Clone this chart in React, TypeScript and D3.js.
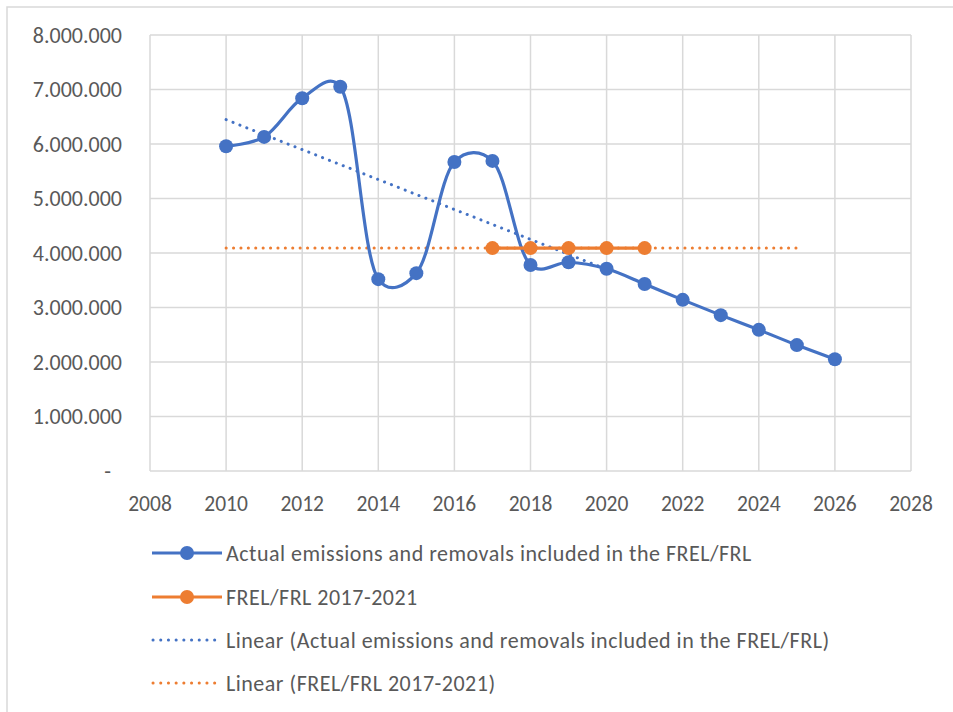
import React from "react";
import * as d3 from "d3";

const actualYears = [2010, 2011, 2012, 2013, 2014, 2015, 2016, 2017, 2018, 2019, 2020, 2021, 2022, 2023, 2024, 2025, 2026];
const actualValues = [5960000, 6130000, 6840000, 7050000, 3520000, 3630000, 5670000, 5690000, 3780000, 3830000, 3710000, 3430000, 3140000, 2860000, 2590000, 2310000, 2050000];
const frelYears = [2017, 2018, 2019, 2020, 2021];
const frelValues = [4090000, 4090000, 4090000, 4090000, 4090000];
// Excel trendline ranges (years covered by each "Linear" line)
const actualTrendRange = [2010, 2020];
const frelTrendRange = [2010, 2025];
const xTicks = [2008, 2010, 2012, 2014, 2016, 2018, 2020, 2022, 2024, 2026, 2028];
const yTicks = [0, 1000000, 2000000, 3000000, 4000000, 5000000, 6000000, 7000000, 8000000];
const legendLabels = [
  "Actual emissions and removals included in the FREL/FRL",
  "FREL/FRL 2017-2021",
  "Linear (Actual emissions and removals included in the FREL/FRL)",
  "Linear (FREL/FRL 2017-2021)",
];

const BLUE = "#4472C4";
const ORANGE = "#ED7D31";
const GRID = "#d9d9d9";
const TEXT = "#595959";
const FONT = "Carlito, 'Liberation Sans Narrow', 'Liberation Sans', Arial, sans-serif";

function linreg(xs: number[], ys: number[]) {
  const mx = d3.mean(xs)!;
  const my = d3.mean(ys)!;
  let sxy = 0, sxx = 0;
  xs.forEach((x, i) => { sxy += (x - mx) * (ys[i] - my); sxx += (x - mx) * (x - mx); });
  const slope = sxx === 0 ? 0 : sxy / sxx;
  return (x: number) => my + slope * (x - mx);
}

export default function App() {
  const W = 953, H = 712;
  const x = d3.scaleLinear().domain([2008, 2028]).range([150, 911]);
  const y = d3.scaleLinear().domain([0, 8000000]).range([471, 35]);
  const loc = d3.formatLocale({ decimal: ",", thousands: ".", grouping: [3], currency: ["", ""] });
  const fmt = loc.format(",d");

  const actual = actualYears.map((yr, i) => [yr, actualValues[i]] as [number, number]);
  const frel = frelYears.map((yr, i) => [yr, frelValues[i]] as [number, number]);

  const smooth = d3.line<[number, number]>().x(d => x(d[0])).y(d => y(d[1])).curve(d3.curveCatmullRom.alpha(0.25));
  const straight = d3.line<[number, number]>().x(d => x(d[0])).y(d => y(d[1]));

  const fitIdx = actualYears.map((yr, i) => i).filter(i => actualYears[i] >= actualTrendRange[0] && actualYears[i] <= actualTrendRange[1]);
  const fA = linreg(fitIdx.map(i => actualYears[i]), fitIdx.map(i => actualValues[i]));
  const fF = linreg(frelYears, frelValues);
  const trendA: [number, number][] = [[actualTrendRange[0], fA(actualTrendRange[0])], [actualTrendRange[1], fA(actualTrendRange[1])]];
  const trendF: [number, number][] = [[frelTrendRange[0], fF(frelTrendRange[0])], [frelTrendRange[1], fF(frelTrendRange[1])]];

  const legendY = [553, 597, 640, 683];

  return (
    <svg width={W} height={H} style={{ position: "absolute", left: 0, top: 0, background: "#fff" }} fontFamily={FONT}>
      <rect x={0} y={0} width={W} height={H} fill="#fff" />
      <rect x={7} y={7} width={W + 20} height={H + 20} fill="none" stroke={GRID} strokeWidth={1.5} />
      {/* grid */}
      {yTicks.map(t => (
        <line key={"gy" + t} x1={x(2008)} x2={x(2028)} y1={y(t)} y2={y(t)} stroke={GRID} strokeWidth={1.5} />
      ))}
      {xTicks.map(t => (
        <line key={"gx" + t} x1={x(t)} x2={x(t)} y1={y(0)} y2={y(8000000)} stroke={GRID} strokeWidth={1.5} />
      ))}
      {/* y labels */}
      {yTicks.map(t => (
        <text key={"ty" + t} x={t === 0 ? 111 : 122} y={y(t)} dy="0.35em" textAnchor="end" fontSize={22} fill={TEXT}>
          {t === 0 ? "-" : fmt(t)}
        </text>
      ))}
      {xTicks.map(t => (
        <text key={"tx" + t} x={x(t)} y={503} dy="0.35em" textAnchor="middle" fontSize={21.5} fill={TEXT}>
          {t}
        </text>
      ))}
      {/* trend lines */}
      <path d={straight(trendF)!} fill="none" stroke={ORANGE} strokeWidth={3} strokeDasharray="0.1 7.3" strokeLinecap="round" />
      <path d={straight(trendA)!} fill="none" stroke={BLUE} strokeWidth={3} strokeDasharray="0.1 7.3" strokeLinecap="round" />
      {/* series */}
      <path d={smooth(actual)!} fill="none" stroke={BLUE} strokeWidth={3.2} strokeLinejoin="round" />
      {actual.map(d => (
        <circle key={"a" + d[0]} cx={x(d[0])} cy={y(d[1])} r={7} fill={BLUE} />
      ))}
      <path d={straight(frel)!} fill="none" stroke={ORANGE} strokeWidth={3.2} />
      {frel.map(d => (
        <circle key={"f" + d[0]} cx={x(d[0])} cy={y(d[1])} r={7} fill={ORANGE} />
      ))}
      {/* legend */}
      {legendLabels.map((lab, i) => {
        const col = i % 2 === 0 ? BLUE : ORANGE;
        const dotted = i >= 2;
        const ly = legendY[i];
        return (
          <g key={"lg" + i}>
            {dotted ? (
              <line x1={153} x2={222} y1={ly} y2={ly} stroke={col} strokeWidth={3} strokeDasharray="0.1 7.6" strokeLinecap="round" />
            ) : (
              <g>
                <line x1={152} x2={222} y1={ly} y2={ly} stroke={col} strokeWidth={3.2} />
                <circle cx={187} cy={ly} r={7} fill={col} />
              </g>
            )}
            <text x={226} y={ly} dy="0.35em" fontSize={22} letterSpacing={0.5} fill={TEXT}>{lab}</text>
          </g>
        );
      })}
    </svg>
  );
}
